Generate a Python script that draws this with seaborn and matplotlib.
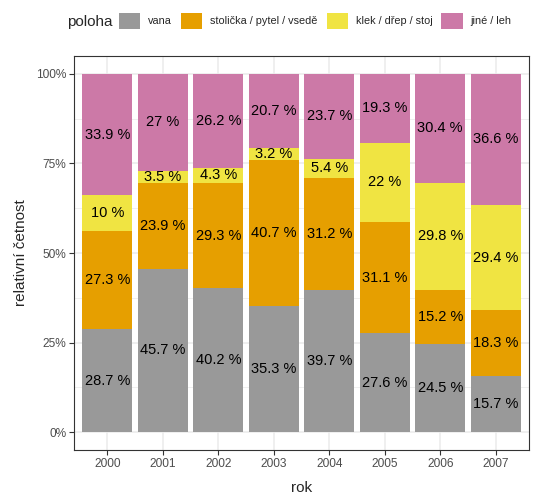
import numpy as np
import pandas as pd
import matplotlib
matplotlib.use("Agg")
import matplotlib.pyplot as plt
import matplotlib.patches as mpatches
import seaborn as sns

# --- data (percent per year, bottom -> top) ---
years = ["2000", "2001", "2002", "2003", "2004", "2005", "2006", "2007"]
positions = ["vana", "stolička / pytel / vsedě", "klek / dřep / stoj", "jiné / leh"]
vana = [28.7, 45.7, 40.2, 35.3, 39.7, 27.6, 24.5, 15.7]
stolicka = [27.3, 23.9, 29.3, 40.7, 31.2, 31.1, 15.2, 18.3]
klek = [10, 3.5, 4.3, 3.2, 5.4, 22, 29.8, 29.4]
jine = [33.9, 27, 26.2, 20.7, 23.7, 19.3, 30.4, 36.6]
colors = ["#999999", "#E69F00", "#F0E442", "#CC79A7"]

sns.set_style("white")
plt.rcParams["font.family"] = ["Liberation Sans", "DejaVu Sans"]

vals = np.array([vana, stolicka, klek, jine])
shares = vals / vals.sum(axis=0)
cum = shares.cumsum(axis=0)

fig = plt.figure(figsize=(5.4, 4.96), dpi=100)
ax = fig.add_axes([74 / 540, 1 - 450 / 496, 455 / 540, 394 / 496])

# grid first (behind bars)
for y in [0, 0.25, 0.5, 0.75, 1.0]:
    ax.axhline(y, color="#EBEBEB", lw=1.1, zorder=0)
for y in [0.125, 0.375, 0.625, 0.875]:
    ax.axhline(y, color="#EBEBEB", lw=0.55, zorder=0)
for i in range(len(years)):
    ax.axvline(i, color="#EBEBEB", lw=1.1, zorder=0)

# stacked bars: draw cumulative tops, largest first
for k in range(len(positions) - 1, -1, -1):
    df = pd.DataFrame({"rok": years, "val": cum[k]})
    sns.barplot(data=df, x="rok", y="val", color=colors[k], width=0.9,
                saturation=1, ax=ax, zorder=2, linewidth=0)

# labels in segment centers
for k in range(len(positions)):
    for i, yr in enumerate(years):
        mid = cum[k, i] - shares[k, i] / 2
        ax.text(i, mid, f"{vals[k, i]:g} %", ha="center", va="center",
                fontsize=10.5, color="black", zorder=3)

ax.set_xlim(-0.6, len(years) - 0.4)
ax.set_ylim(-0.05, 1.05)
ax.set_yticks([0, 0.25, 0.5, 0.75, 1.0])
ax.set_yticklabels(["0%", "25%", "50%", "75%", "100%"])
ax.tick_params(axis="both", colors="#333333", labelcolor="#4D4D4D",
               labelsize=8.6, length=3.5, width=0.8, direction="out", pad=2)
ax.tick_params(axis="both", which="both", bottom=True, left=True)
for s in ax.spines.values():
    s.set_color("#333333")
    s.set_linewidth(0.8)
    s.set_visible(True)
ax.set_xlabel("rok", fontsize=11, labelpad=8)
ax.set_ylabel("relativní četnost", fontsize=11, labelpad=6)

# legend on top
fig.text(67 / 540, 1 - 22 / 496, "poloha", fontsize=11, ha="left", va="center")
handles = [mpatches.Patch(facecolor=c, edgecolor="none") for c in colors]
fig.legend(handles, positions, loc="center left", ncol=4,
           bbox_to_anchor=(119 / 540, 1 - 21 / 496), frameon=False,
           fontsize=7.8, handlelength=1.95, handleheight=1.95,
           handletextpad=0.74, columnspacing=0.83, borderaxespad=0,
           borderpad=0)

fig.savefig("out.png", dpi=100)
